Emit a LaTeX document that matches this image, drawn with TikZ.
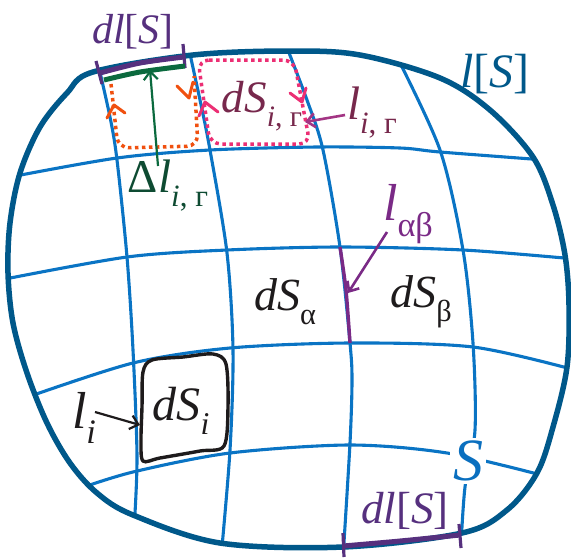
\documentclass[tikz,border=0pt]{standalone}
\usepackage{fontspec}
\setmainfont{Liberation Serif}
\usetikzlibrary{arrows.meta}
\definecolor{bndc}{HTML}{00588A}
\definecolor{gridc}{HTML}{0A74C4}
\definecolor{purp}{HTML}{56307E}
\definecolor{purpl}{HTML}{7A2A86}
\definecolor{greenc}{HTML}{0B6A3E}
\definecolor{greent}{HTML}{0E4B32}
\definecolor{orangec}{HTML}{F0500F}
\definecolor{pinkc}{HTML}{EC2F74}
\definecolor{maroon}{HTML}{77284C}
\definecolor{magc}{HTML}{A33584}
\definecolor{ink}{HTML}{1E1B1C}
\definecolor{sblue}{HTML}{0A6FBF}
\newcommand{\sbs}[1]{\raisebox{-0.3em}{\scalebox{0.66}{#1}}}
\newcommand{\fsz}[1]{\fontsize{#1}{#1}\selectfont}
\begin{document}
\begin{tikzpicture}[x=1pt,y=-1pt,
  gridline/.style={gridc, line width=3.1pt},
  lbl/.style={inner sep=0pt, outer sep=0pt},
  barb/.style={-{Straight Barb[length=8pt,width=14pt]}},
  dotline/.style={line width=3.5pt, dash pattern=on 3.5pt off 3.5pt, rounded corners=11pt},
  chev/.style={line width=3pt, line cap=round, line join=round}]
\useasboundingbox (0,0) rectangle (571,558);
\def\bndpath{plot[smooth cycle, tension=0.55] coordinates {(93,72) (193,55) (290,51) (360,55) (440,78) (490,110) (533,157) (553,205) (565,255) (569,305) (567,367) (553,427) (537,473) (507,510) (462,533) (343,547) (220,543) (133,515) (97,493) (70,463) (47,423) (27,373) (13,323) (8,273) (10,223) (20,173) (40,127) (67,93)}}
\begin{scope}
\clip \bndpath;
\draw[gridline] plot[smooth] coordinates {(96,55) (110,117) (117,160) (127,257) (133,350) (137,457) (134,530)};
\draw[gridline] plot[smooth] coordinates {(188,45) (200,100) (210,150) (227,253) (233,350) (230,450) (221,558)};
\draw[gridline] plot[smooth] coordinates {(284,40) (307,100) (323,150) (340,247) (350,343) (352,380) (350,443) (343,558)};
\draw[gridline] plot[smooth] coordinates {(396,55) (440,150) (463,250) (473,343) (475,430) (465,487) (461,545)};
\draw[gridline] plot[smooth] coordinates {(5,178) (117,158) (210,150) (317,147) (400,148) (440,152) (545,160)};
\draw[gridline] plot[smooth] coordinates {(0,280) (127,257) (227,250) (340,247) (463,250) (575,259)};
\draw[gridline] plot[smooth] coordinates {(25,398) (133,363) (230,348) (350,343) (473,347) (575,370)};
\draw[gridline] plot[smooth] coordinates {(75,490) (133,472) (230,453) (350,445) (447,453) (545,476)};
\end{scope}
\draw[bndc, line width=5.5pt] \bndpath;
% purple edge l_alpha beta
\draw[purpl, line width=3.4pt] plot[smooth] coordinates {(340,247) (346,290) (350,343)};
% S label
\node[lbl, fill=white, inner sep=3pt, text=sblue, font=\fsz{60}\itshape] (S) at (468,461) {S};
% top purple bar
\draw[purp, line width=5pt] plot[smooth] coordinates {(100,73) (140,63) (184,57)};
\draw[purp, line width=3.2pt] (96,61) -- (102,84);
\draw[purp, line width=3.2pt] (183,44) -- (185,68);
% green bar
\draw[greenc, line width=5pt] plot[smooth] coordinates {(104,80) (140,72) (185,66)};
% orange dotted loop
\draw[orangec, dotline] (111,84) -- (118,148) -- (198,146) -- (194,76);
\draw[orangec, chev] (107,118) -- (114,105) -- (125,113);
\draw[orangec, chev] (177,86) -- (189,98) -- (193,82);
% pink dotted loop
\draw[pinkc, dotline] (198,60) -- (294,60) -- (310,144) -- (210,144) -- cycle;
\draw[pinkc, chev] (199,116) -- (205,102) -- (218,112);
\draw[pinkc, chev] (290,93) -- (302,102) -- (306,88);
% black hand-drawn box
\draw[ink, line width=3.4pt] plot[smooth cycle, tension=0.5] coordinates {(143,372) (152,360) (183,357) (213,354) (226,364) (228,407) (224,446) (200,451) (160,458) (143,461) (141,440) (142,407)};
% labels
\node[lbl, text=purp, font=\fsz{42}] (dlt) at (133,32) {\textit{dl}[\textit{S}]};
\node[lbl, text=bndc, font=\fsz{48}] (ls) at (495,74) {\textit{l}[\textit{S}]};
\node[lbl, text=maroon, font=\fsz{45}] (dsir) at (262,106) {\textit{dS}\sbs{\textit{i}, г}};
\node[lbl, text=maroon, font=\fsz{47}] (lir) at (372,113) {\textit{l}\sbs{\textit{i}, г}};
\node[lbl, text=greent, font=\fsz{47}] (dlir) at (168,186) {Δ\textit{l}\sbs{\textit{i}, г}};
\node[lbl, text=purpl, font=\fsz{52}] (lab) at (408,214) {\textit{l}\sbs{αβ}};
\node[lbl, text=ink, font=\fsz{46}] (dsa) at (285,302) {\textit{dS}\sbs{α}};
\node[lbl, text=ink, font=\fsz{46}] (dsb) at (421,302) {\textit{dS}\sbs{β}};
\node[lbl, text=ink, font=\fsz{48}] (dsi) at (181,411) {\textit{dS}\sbs{\textit{i}}};
\node[lbl, text=ink, font=\fsz{52}] (li) at (84,418) {\textit{l}\sbs{\textit{i}}};
\node[lbl, text=purp, font=\fsz{45}] (dlb) at (405,511) {\textit{dl}[\textit{S}]};
% bottom purple bar
\draw[purp, line width=5pt] plot[smooth] coordinates {(343,546) (400,541) (460,535)};
\draw[purp, line width=3.2pt] (343,533) -- (344,557);
\draw[purp, line width=3.2pt] (459,524) -- (461,548);
% arrows
\coordinate (gtip) at (150,70);
\coordinate (gtail) at (158,166);
\draw[greenc, line width=2.2pt, barb] (gtail) -- (gtip);
\coordinate (ltip) at (305,122);
\draw[magc, line width=2.6pt, barb] (lir.west) ++(-2,2) -- (ltip);
\coordinate (abtip) at (348,293);
\coordinate (abtail) at (387,232);
\draw[purpl, line width=2.6pt, barb] (abtail) -- (abtip);
\coordinate (litip) at (140,425);
\coordinate (litail) at (95,412);
\draw[ink, line width=2.2pt, barb] (litail) -- (litip);
\end{tikzpicture}
\end{document}
